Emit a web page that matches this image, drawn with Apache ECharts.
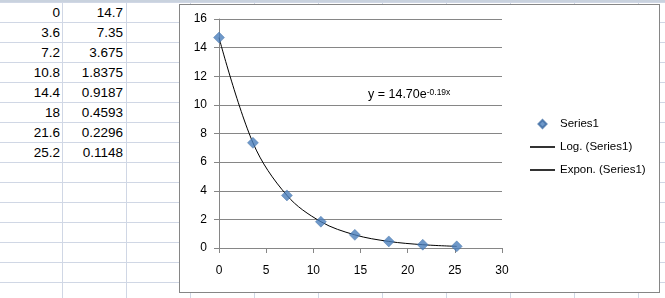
<!DOCTYPE html>
<html>
<head>
<meta charset="utf-8">
<script src="https://cdn.jsdelivr.net/npm/echarts@6/dist/echarts.min.js"></script>
<style>
html, body { margin: 0; padding: 0; width: 665px; height: 298px; overflow: hidden; background: #fff; }
#sheet {
  position: absolute; left: 0; top: 0; width: 665px; height: 298px;
  background-image:
    repeating-linear-gradient(to right, transparent 0 63px, #d0d7e5 63px 64px),
    repeating-linear-gradient(to bottom, transparent 0 19px, #d0d7e5 19px 20px);
  background-size: 64px 298px, 665px 20px;
  background-repeat: repeat, repeat;
  background-position: -1px 0, 0 3px;
}
#header { position: absolute; left: 0; top: 0; width: 665px; height: 2px; background: #c9d2de; }
.cell {
  position: absolute; height: 19px; line-height: 19px; text-align: right;
  font-family: "Liberation Sans", Arial, sans-serif; font-size: 13.5px; color: #000;
  white-space: nowrap;
}
#box {
  position: absolute; left: 179px; top: 4px; width: 481px; height: 289px;
  box-sizing: border-box; border: 1px solid #868686; background: #fff;
}
#chart { position: absolute; left: 0; top: 0; width: 479px; height: 287px; }
</style>
</head>
<body>
<div id="sheet"></div>
<div id="header"></div>
<div id="cells"></div>
<div id="box"><div id="chart"></div></div>
<script>
// ---- data ----
const xValues = [0, 3.6, 7.2, 10.8, 14.4, 18, 21.6, 25.2];
const yValues = [14.7, 7.35, 3.675, 1.8375, 0.9187, 0.4593, 0.2296, 0.1148];
const xAxisRange = [0, 30, 5];   // min, max, interval
const yAxisRange = [0, 16, 2];   // min, max, interval
const seriesNames = ['Series1', 'Log. (Series1)', 'Expon. (Series1)'];
const equationMain = 'y = 14.70e';
const equationExp = '-0.19x';

// ---- spreadsheet cells ----
const cells = document.getElementById('cells');
for (let i = 0; i < xValues.length; i++) {
  const top = 3 + 20 * i;
  const a = document.createElement('div');
  a.className = 'cell';
  a.style.left = '0px'; a.style.width = '60px'; a.style.top = top + 'px';
  a.textContent = String(xValues[i]);
  const b = document.createElement('div');
  b.className = 'cell';
  b.style.left = '63px'; b.style.width = '60px'; b.style.top = top + 'px';
  b.textContent = String(yValues[i]);
  cells.appendChild(a); cells.appendChild(b);
}

// ---- chart ----
const points = xValues.map((x, i) => [x, yValues[i]]);
const FONT = '"Liberation Sans", Arial, sans-serif';
const LINE_ICON = 'path://M0,0 L25,0 L25,1.6 L0,1.6 Z';
const DIAMOND_ICON = 'path://M4,0 L8,4 L4,8 L0,4 Z';
const chart = echarts.init(document.getElementById('chart'), null, { renderer: 'canvas' });
chart.setOption({
  animation: false,
  backgroundColor: '#fff',
  textStyle: { fontFamily: FONT },
  grid: { left: 39, right: 157, top: 14, bottom: 44, containLabel: false, outerBoundsMode: 'none' },
  xAxis: {
    type: 'value', min: xAxisRange[0], max: xAxisRange[1], interval: xAxisRange[2],
    axisLine: { show: true, onZero: false, lineStyle: { color: '#868686', width: 1 } },
    axisTick: { show: true, inside: false, length: 5, lineStyle: { color: '#868686', width: 1 } },
    axisLabel: { show: true, margin: 17, color: '#000', fontSize: 12, fontFamily: FONT },
    splitLine: { show: false }
  },
  yAxis: {
    type: 'value', min: yAxisRange[0], max: yAxisRange[1], interval: yAxisRange[2],
    axisLine: { show: true, lineStyle: { color: '#868686', width: 1 } },
    axisTick: { show: true, inside: false, length: 5, lineStyle: { color: '#868686', width: 1 } },
    axisLabel: { show: true, margin: 12, color: '#000', fontSize: 12, fontFamily: FONT },
    splitLine: { show: true, lineStyle: { color: '#868686', width: 1, type: 'solid' } }
  },
  legend: {
    orient: 'vertical', left: 350, top: 113, padding: 0,
    itemWidth: 25, itemHeight: 8, itemGap: 11,
    symbolKeepAspect: true,
    data: [
      { name: seriesNames[0], icon: DIAMOND_ICON },
      { name: seriesNames[1], icon: LINE_ICON },
      { name: seriesNames[2], icon: LINE_ICON }
    ],
    textStyle: { color: '#000', fontSize: 11.5, fontFamily: FONT },
    selectedMode: false
  },
  graphic: [{
    type: 'text', left: 188, top: 83, silent: true,
    style: {
      text: '{a|' + equationMain + '}{b|' + equationExp + '}',
      rich: {
        a: { fontSize: 12.5, fontFamily: FONT, fill: '#000', lineHeight: 14 },
        b: { fontSize: 8.5, fontFamily: FONT, fill: '#000', lineHeight: 6, verticalAlign: 'top' }
      }
    }
  }],
  series: [
    {
      name: seriesNames[0], type: 'scatter', data: points, z: 5,
      symbol: 'diamond', symbolSize: 11,
      itemStyle: { color: '#4a7ebb', borderColor: '#3d6ca3', borderWidth: 0.5 }
    },
    {
      name: seriesNames[1], type: 'line', data: [], symbol: 'none',
      itemStyle: { color: '#000' }, lineStyle: { color: '#000', width: 1 }
    },
    {
      name: seriesNames[2], type: 'line', data: points, symbol: 'none', z: 3,
      smooth: 0.35,
      itemStyle: { color: '#000' }, lineStyle: { color: '#000', width: 1 }
    }
  ]
});
</script>
</body>
</html>
